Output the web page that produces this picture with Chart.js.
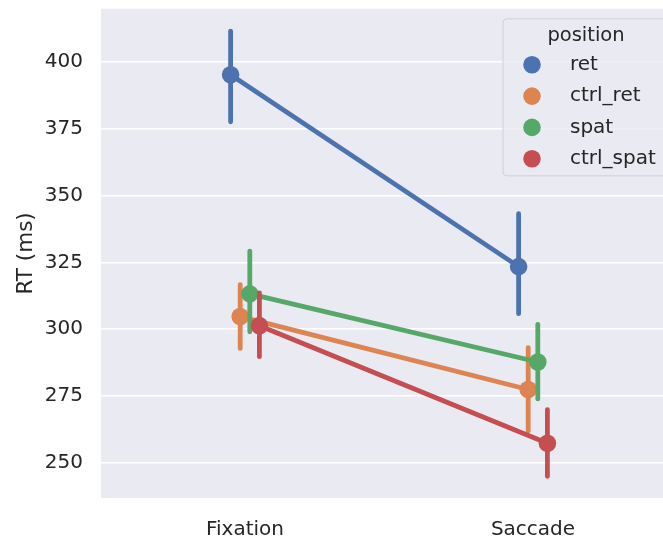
<!DOCTYPE html>
<html>
<head>
<meta charset="utf-8">
<script src="https://cdn.jsdelivr.net/npm/chart.js@4"></script>
<style>
  html,body{margin:0;padding:0;background:#fff;overflow:hidden;}
  #wrap{width:690px;height:540px;}
</style>
</head>
<body>
<div id="wrap"><canvas id="chartRT" width="690" height="540"></canvas></div>
<script>
/* ===============================
  RT per position (pointplot)
================================ */
const categories = ['Fixation', 'Saccade'];
const positions  = ['ret', 'ctrl_ret', 'spat', 'ctrl_spat'];
const colors     = ['#4C72B0', '#DD8452', '#55A868', '#C44E52'];

// mean RT per position, one value per category
const retMean      = [395.2, 323.4];
const ctrlRetMean  = [304.7, 277.4];
const spatMean     = [313.2, 287.7];
const ctrlSpatMean = [301.3, 257.3];

// confidence intervals
const retLow       = [377.6, 305.8];
const retHigh      = [411.5, 343.2];
const ctrlRetLow   = [292.8, 261.9];
const ctrlRetHigh  = [316.7, 293.1];
const spatLow      = [299.0, 273.9];
const spatHigh     = [329.2, 301.8];
const ctrlSpatLow  = [289.7, 244.9];
const ctrlSpatHigh = [313.6, 269.9];

const yTicks = [250, 275, 300, 325, 350, 375, 400];

const means = [retMean, ctrlRetMean, spatMean, ctrlSpatMean];
const lows  = [retLow, ctrlRetLow, spatLow, ctrlSpatLow];
const highs = [retHigh, ctrlRetHigh, spatHigh, ctrlSpatHigh];

const dodge = 0.1;
const TXT = '#262626';
const FONT = 'DejaVu Sans';

const datasets = [];
positions.forEach((p, j) => {
    const off = j * dodge / (positions.length - 1) - dodge / 2;
    datasets.push({
        label: p,
        data: means[j].map((v, i) => ({x: i + off, y: v})),
        borderColor: colors[j],
        backgroundColor: colors[j],
        borderWidth: 4.8,
        pointRadius: 8.8,
        pointHoverRadius: 8.8,
        pointBorderWidth: 0,
        order: positions.length - j
    });
    categories.forEach((c, i) => {
        datasets.push({
            label: '_ci',
            data: [{x: i + off, y: lows[j][i]}, {x: i + off, y: highs[j][i]}],
            borderColor: colors[j],
            borderWidth: 4.8,
            borderCapStyle: 'round',
            pointRadius: 0,
            order: positions.length - j
        });
    });
});

const plotBg = {
    id: 'plotBg',
    beforeDraw(chart){
        const a = chart.chartArea, ctx = chart.ctx;
        ctx.save();
        ctx.fillStyle = '#EAEAF2';
        ctx.fillRect(a.left, a.top, a.right - a.left, a.bottom - a.top);
        ctx.restore();
    }
};

const boxLegend = {
    id: 'boxLegend',
    afterDraw(chart){
        const a = chart.chartArea, ctx = chart.ctx;
        const x0 = a.right - 174, y0 = a.top + 10, w = 200, h = 157;
        ctx.save();
        ctx.beginPath();
        ctx.roundRect(x0, y0, w, h, 4);
        ctx.fillStyle = 'rgba(234,234,242,0.8)';
        ctx.fill();
        ctx.strokeStyle = '#D0D0D8';
        ctx.lineWidth = 1;
        ctx.stroke();
        ctx.fillStyle = TXT;
        ctx.textBaseline = 'middle';
        ctx.textAlign = 'center';
        ctx.font = '19.5px "' + FONT + '"';
        ctx.fillText('position', x0 + 83, y0 + 17);
        ctx.textAlign = 'left';
        ctx.font = '20px "' + FONT + '"';
        positions.forEach((p, j) => {
            const yy = y0 + 46 + j * 31.3;
            ctx.beginPath();
            ctx.arc(x0 + 29, yy, 8.8, 0, Math.PI * 2);
            ctx.fillStyle = colors[j];
            ctx.fill();
            ctx.fillStyle = TXT;
            ctx.fillText(p, x0 + 67, yy);
        });
        ctx.restore();
    }
};

new Chart(document.getElementById('chartRT'), {
    type: 'line',
    data: {datasets: datasets},
    plugins: [plotBg, boxLegend],
    options: {
        responsive: false,
        animation: false,
        layout: {padding: {top: 7, right: 13, left: 0, bottom: 0}},
        plugins: {legend: {display: false}, tooltip: {enabled: false}},
        scales: {
            x: {
                type: 'linear',
                min: -0.5, max: 1.5,
                afterBuildTicks: s => { s.ticks = categories.map((c, i) => ({value: i})); },
                afterFit: s => { s.height = 42; s.paddingLeft = 0; s.paddingRight = 0; },
                ticks: {
                    callback: v => categories[v],
                    color: TXT,
                    font: {family: FONT, size: 20},
                    padding: 12,
                    maxRotation: 0
                },
                grid: {display: false},
                border: {display: false}
            },
            y: {
                min: 236.8, max: 419.9,
                afterBuildTicks: s => { s.ticks = yTicks.map(v => ({value: v})); },
                afterFit: s => { s.width = 101; s.paddingTop = 0; s.paddingBottom = 0; },
                ticks: {
                    color: TXT,
                    font: {family: FONT, size: 20},
                    padding: 18
                },
                grid: {color: '#ffffff', lineWidth: 1.5, drawTicks: false},
                border: {display: false},
                title: {
                    display: true,
                    text: 'RT (ms)',
                    color: TXT,
                    font: {family: FONT, size: 21.5},
                    padding: {top: 14, bottom: 0}
                }
            }
        }
    }
});
</script>
</body>
</html>
